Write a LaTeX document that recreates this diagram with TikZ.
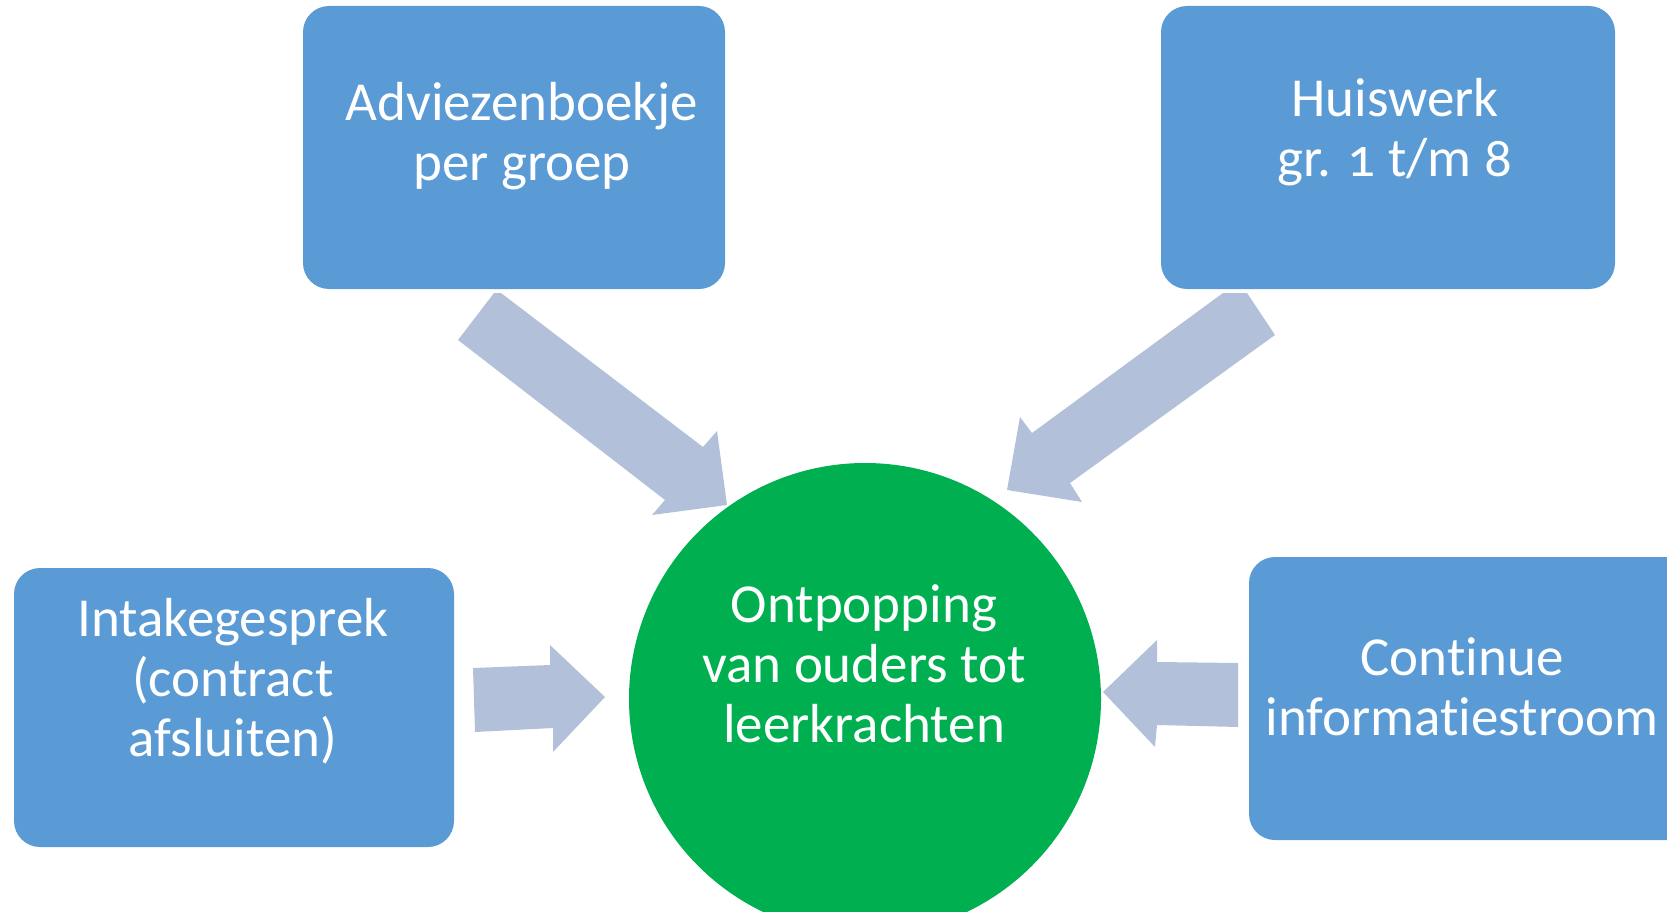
\documentclass[tikz,border=0pt]{standalone}
\usepackage{fontspec}
\setmainfont{Carlito}[Numbers=OldStyle,Ligatures=NoCommon]
\definecolor{boxblue}{HTML}{5B9BD5}
\definecolor{circgreen}{HTML}{00B050}
\definecolor{arrowgray}{HTML}{B2C1D9}
\begin{document}
\begin{tikzpicture}[x=1pt,y=-1pt,
  box/.style={fill=boxblue,draw=none,rounded corners=26pt,inner sep=0pt},
  lbl/.style={text=white,align=center,font=\fontsize{55}{60}\selectfont,inner sep=0pt},
  blockarrow/.style={fill=arrowgray,draw=none}]
\useasboundingbox (0,0) rectangle (1667,912);
% boxes
\node[box,minimum width=422pt,minimum height=283pt] (advb) at (514,147.5) {};
\node[box,minimum width=454pt,minimum height=283pt] (huisb) at (1388,147.5) {};
\node[box,minimum width=440pt,minimum height=279pt] (intb) at (234,707.5) {};
\node[box,minimum width=460pt,minimum height=283pt] (contb) at (1479,698.5) {};
% circle
\node[circle,fill=circgreen,minimum size=472pt,inner sep=0pt] (circ) at (865,699) {};
% texts
\node[lbl] (advt) at (522,136) {Adviezenboekje\\per groep};
\node[lbl] (huist) at (1395,132) {Huiswerk\\gr. 1 t/m 8};
\node[lbl] (intt) at (233,681) {Intakegesprek\\(contract\\afsluiten)};
\node[lbl] (contt) at (1462,687) {Continue\\informatiestroom};
\node[lbl] (circt) at (864,664) {Ontpopping\\van ouders tot\\leerkrachten};
% block arrows
\fill[blockarrow] (458,340) -- (494,293) -- (501,293) -- (703,447) -- (717,431) -- (727,505) -- (652,515) -- (665,500) -- cycle;
\fill[blockarrow] (1223,293) -- (1247,293) -- (1275,335) -- (1070,483) -- (1082,502) -- (1007,490) -- (1020,417) -- (1032,433) -- cycle;
\fill[blockarrow] (473,668) -- (550,665) -- (550,645) -- (605,697) -- (553,752) -- (553,728) -- (475,732) -- cycle;
\fill[blockarrow] (1238,663) -- (1157,662) -- (1157,640) -- (1103,692) -- (1155,747) -- (1157,725) -- (1238,727) -- cycle;
\end{tikzpicture}
\end{document}
